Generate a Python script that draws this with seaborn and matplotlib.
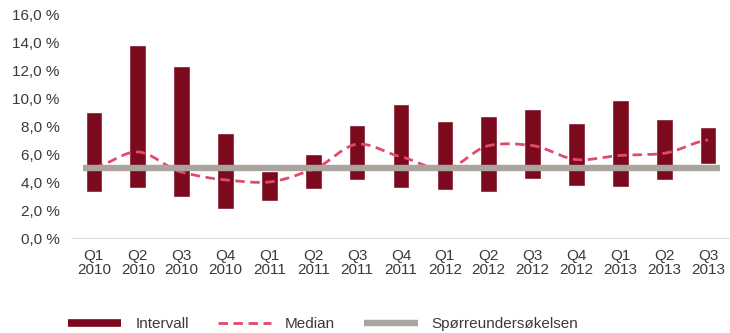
import numpy as np
import pandas as pd
import matplotlib
matplotlib.use("Agg")
import matplotlib.pyplot as plt
from matplotlib.lines import Line2D
from matplotlib.ticker import FuncFormatter, FixedLocator
import seaborn as sns

# Quarterly data (percent)
quarters = ["Q1", "Q2", "Q3", "Q4", "Q1", "Q2", "Q3", "Q4",
            "Q1", "Q2", "Q3", "Q4", "Q1", "Q2", "Q3"]
years = ["2010", "2010", "2010", "2010", "2011", "2011", "2011", "2011",
         "2012", "2012", "2012", "2012", "2013", "2013", "2013"]
interval_low = [3.3, 3.55, 2.95, 2.05, 2.65, 3.5, 4.15, 3.55,
                3.4, 3.3, 4.25, 3.7, 3.65, 4.15, 5.3]
interval_high = [9.0, 13.8, 12.3, 7.5, 4.8, 6.0, 8.05, 9.6,
                 8.35, 8.7, 9.25, 8.25, 9.85, 8.5, 7.9]
median = [5.05, 6.15, 4.7, 4.15, 4.0, 4.9, 6.7, 5.8,
          4.9, 6.6, 6.6, 5.6, 5.9, 6.05, 7.0]
survey = [5.0] * 15

labels = [f"{q}\n{y}" for q, y in zip(quarters, years)]
df = pd.DataFrame({
    "label": labels,
    "low": interval_low,
    "span": np.array(interval_high) - np.array(interval_low),
})

BAR = "#7b0a1e"
MED = "#e24a6c"
GREY = "#aaa49e"
TEXT = "#3a3a3a"

sns.set_theme(style="white")
plt.rcParams["font.family"] = ["Liberation Sans", "DejaVu Sans"]

fig = plt.figure(figsize=(7.3, 3.33), dpi=100)
ax = fig.add_axes([72 / 730, 95 / 333, 658 / 730, 224 / 333])

# Interval bars: floating from low to high
sns.barplot(data=df, x="label", y="span", bottom=df["low"].values,
            color=BAR, width=0.38, saturation=1, ax=ax, zorder=2)


def smooth(y, samples=24, tension=0.75):
    """Cubic Hermite curve through the points (x = 0..n-1)."""
    y = np.asarray(y, dtype=float)
    n = len(y)
    p = np.concatenate([[y[0]], y, [y[-1]]])
    xs, ys = [], []
    for i in range(n - 1):
        p0, p1, p2, p3 = p[i], p[i + 1], p[i + 2], p[i + 3]
        m1 = tension * 0.5 * (p2 - p0)
        m2 = tension * 0.5 * (p3 - p1)
        t = np.linspace(0, 1, samples, endpoint=(i == n - 2))
        h00 = 2 * t ** 3 - 3 * t ** 2 + 1
        h10 = t ** 3 - 2 * t ** 2 + t
        h01 = -2 * t ** 3 + 3 * t ** 2
        h11 = t ** 3 - t ** 2
        xs.append(i + t)
        ys.append(h00 * p1 + h10 * m1 + h01 * p2 + h11 * m2)
    return np.concatenate(xs), np.concatenate(ys)


mx, my = smooth(median)
sns.lineplot(x=mx, y=my, color=MED, lw=2.0, ax=ax, zorder=3)
ax.lines[-1].set_dashes([3.4, 2.0])

# Survey level spans the full category band
n = len(survey)
sx = np.linspace(-0.25, n - 1 + 0.27, n)
sns.lineplot(x=sx, y=survey, color=GREY, lw=4.6, ax=ax, zorder=4,
             solid_capstyle="butt")

ax.set_ylim(0, 16)
ax.set_xlim(-0.5, n - 0.5)
ax.set_yticks(np.arange(0, 16.1, 2))
ax.yaxis.set_major_formatter(FuncFormatter(lambda v, p: f"{v:.1f} %".replace(".", ",")))
ax.set_xlabel("")
ax.set_ylabel("")

for s in ["top", "right", "left"]:
    ax.spines[s].set_visible(False)
ax.spines["bottom"].set_color("#dcdcdc")
ax.spines["bottom"].set_linewidth(0.8)

ax.tick_params(axis="y", length=0, pad=9, labelsize=11, labelcolor=TEXT)
ax.tick_params(axis="x", which="major", length=0, pad=8, labelsize=11, labelcolor=TEXT)
ax.xaxis.set_minor_locator(FixedLocator(np.arange(-0.5, n, 1.0)))
ax.tick_params(axis="x", which="minor", length=38, width=0.6, color="#f0f0f0", direction="out")
for t in ax.get_xticklabels():
    t.set_linespacing(1.0)

handles = [
    Line2D([], [], color=BAR, lw=5.5, solid_capstyle="butt"),
    Line2D([], [], color=MED, lw=2.0, dashes=[3.4, 2.0]),
    Line2D([], [], color=GREY, lw=4.6, solid_capstyle="butt"),
]
fig.legend(handles, ["Intervall", "Median", "Spørreundersøkelsen"],
           loc="center left", bbox_to_anchor=(68 / 730, 9 / 333), ncol=3,
           frameon=False, fontsize=11, handlelength=3.5, handletextpad=0.9,
           columnspacing=1.9, borderpad=0, borderaxespad=0, labelcolor=TEXT)

fig.savefig("out.png", dpi=100)
